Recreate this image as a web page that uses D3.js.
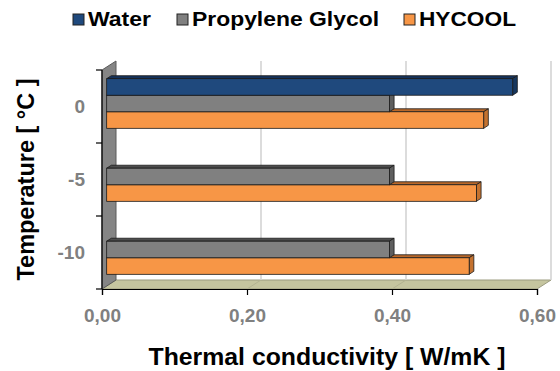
<!DOCTYPE html>
<html>
<head>
<meta charset="utf-8">
<script src="https://cdn.jsdelivr.net/npm/d3@7"></script>
<style>
  html, body { margin: 0; padding: 0; background: #fff; }
  svg { display: block; font-family: "Liberation Sans", Arial, sans-serif; font-weight: bold; }
</style>
</head>
<body>
<div id="chart"></div>
<script>
// data
const categories = ["0", "-5", "-10"];
const series = ["Water", "Propylene Glycol", "HYCOOL"];
const water = [0.56, null, null];
const propyleneGlycol = [0.39, 0.39, 0.39];
const hycool = [0.52, 0.51, 0.50];
const xTicks = [0, 0.2, 0.4, 0.6];

const values = [water, propyleneGlycol, hycool];

const colors = {
	"Water":            {front: "#1f497d", top: "#15325a", side: "#17375e"},
	"Propylene Glycol": {front: "#808080", top: "#4d4d4d", side: "#5e5e5e"},
	"HYCOOL":           {front: "#f79646", top: "#b9682a", side: "#c4722f"}
};

const width = 560,
	height = 371,
	plot = {left: 102, right: 537, top: 70, bottom: 289},
	depth = {dx: 14, dy: -9};

const commaLocale = d3.formatLocale({decimal: ",", thousands: ".", grouping: [3], currency: ["", ""]});
const tickFormat = commaLocale.format(".2f");

const x = d3.scaleLinear()
	.domain([0, 0.6])
	.range([plot.left, plot.right]);

const y0 = d3.scaleBand()
	.domain(categories)
	.range([plot.top, plot.bottom])
	.paddingInner(0.32)
	.paddingOuter(0.16);

const y1 = d3.scaleBand()
	.domain(series)
	.range([0, y0.bandwidth()]);

const svg = d3.select("#chart")
	.append("svg")
	.attr("width", width)
	.attr("height", height);

// offset of a point pushed back into the chart depth (0 = front, 1 = back)
const back = (px, py, t) => [px + depth.dx * t, py + depth.dy * t];
const poly = pts => pts.map(p => p.join(",")).join(" ");

// ---------- walls ----------
svg.append("polygon")
	.attr("points", poly([
		[plot.left, plot.bottom], back(plot.left, plot.bottom, 1),
		back(plot.right, plot.bottom, 1), [plot.right, plot.bottom]
	]))
	.style("fill", "#c5c59f")
	.style("stroke", "#9c9c80")
	.style("stroke-width", 1);

// floor grid
svg.append("g").selectAll("line")
	.data(xTicks.slice(1, -1))
	.enter()
	.append("line")
	.attr("x1", d => x(d))
	.attr("y1", plot.bottom)
	.attr("x2", d => back(x(d), plot.bottom, 1)[0])
	.attr("y2", d => back(x(d), plot.bottom, 1)[1])
	.style("stroke", "#b3b391")
	.style("stroke-width", 1);

// back wall grid
svg.append("g").selectAll("line")
	.data(xTicks.slice(1))
	.enter()
	.append("line")
	.attr("x1", d => back(x(d), plot.top, 1)[0])
	.attr("y1", d => back(x(d), plot.top, 1)[1])
	.attr("x2", d => back(x(d), plot.bottom, 1)[0])
	.attr("y2", d => back(x(d), plot.bottom, 1)[1])
	.style("stroke", "#d4d4d4")
	.style("stroke-width", 1.6);

// side wall
svg.append("polygon")
	.attr("points", poly([
		[plot.left, plot.top], back(plot.left, plot.top, 1),
		back(plot.left, plot.bottom, 1), [plot.left, plot.bottom]
	]))
	.style("fill", "#858585")
	.style("stroke", "#5a5a5a")
	.style("stroke-width", 1);

// ---------- bars ----------
const bars = [];
categories.forEach((c, ci) => {
	// bottom series first so upper bars hide the tops of lower ones
	series.slice().reverse().forEach(s => {
		const v = values[series.indexOf(s)][ci];
		if (v == null) return;
		bars.push({category: c, series: s, value: v});
	});
});

const barG = svg.append("g").classed("bars", true);

bars.forEach(d => {
	const yTop = y0(d.category) + y1(d.series),
		h = y1.bandwidth(),
		[fx0, fy0] = back(x(0), yTop, 1 / 3),
		[fx1] = back(x(d.value), yTop, 1 / 3),
		[bx0, by0] = back(x(0), yTop, 2 / 3),
		[bx1] = back(x(d.value), yTop, 2 / 3),
		col = colors[d.series];

	const g = barG.append("g").attr("data-value", d.value);

	g.append("polygon")
		.attr("points", poly([[fx0, fy0], [bx0, by0], [bx1, by0], [fx1, fy0]]))
		.style("fill", col.top)
		.style("stroke", "#1a1a1a")
		.style("stroke-width", 0.8);

	g.append("polygon")
		.attr("points", poly([[fx1, fy0], [bx1, by0], [bx1, by0 + h], [fx1, fy0 + h]]))
		.style("fill", col.side)
		.style("stroke", "#1a1a1a")
		.style("stroke-width", 0.8);

	g.append("rect")
		.attr("x", fx0)
		.attr("y", fy0)
		.attr("width", fx1 - fx0)
		.attr("height", h)
		.style("fill", col.front)
		.style("stroke", "#1a1a1a")
		.style("stroke-width", 0.8);
});

// ---------- axes ----------
const xAxis = d3.axisBottom(x)
	.tickValues(xTicks)
	.tickSize(6)
	.tickPadding(14)
	.tickFormat(tickFormat);

const xg = svg.append("g")
	.attr("transform", `translate(0,${plot.bottom})`)
	.call(xAxis);
xg.select(".domain").style("stroke", "#000").style("stroke-width", 1.2);
xg.selectAll(".tick line").style("stroke", "#000").style("stroke-width", 1.2);
xg.selectAll(".tick text")
	.style("font-family", "'Liberation Sans', Arial, sans-serif")
	.style("font-weight", "bold")
	.style("font-size", "19px")
	.style("fill", "#808080");

const yAxis = d3.axisLeft(y0)
	.tickSize(0)
	.tickPadding(17);

const yg = svg.append("g")
	.attr("transform", `translate(${plot.left},0)`)
	.call(yAxis);
yg.select(".domain").remove();
yg.selectAll(".tick text")
	.style("font-family", "'Liberation Sans', Arial, sans-serif")
	.style("font-weight", "bold")
	.style("font-size", "19px")
	.style("fill", "#808080");

// category boundaries
const bounds = d3.range(categories.length + 1).map(i => y0.range()[0] + i * y0.step());
svg.append("line")
	.attr("x1", plot.left).attr("x2", plot.left)
	.attr("y1", bounds[0]).attr("y2", bounds[bounds.length - 1])
	.style("stroke", "#000").style("stroke-width", 1.2);
svg.append("g").selectAll("line")
	.data(bounds)
	.enter()
	.append("line")
	.attr("x1", plot.left - 6).attr("x2", plot.left)
	.attr("y1", d => d).attr("y2", d => d)
	.style("stroke", "#000").style("stroke-width", 1.2);

// ---------- titles ----------
svg.append("text")
	.attr("x", 327)
	.attr("y", 365)
	.attr("text-anchor", "middle")
	.attr("textLength", 357)
	.attr("lengthAdjust", "spacingAndGlyphs")
	.style("font-size", "24px")
	.style("fill", "#000")
	.text("Thermal conductivity [ W/mK  ]");

svg.append("text")
	.attr("transform", `translate(34,${(plot.top + plot.bottom) / 2}) rotate(-90)`)
	.attr("text-anchor", "middle")
	.attr("textLength", 202)
	.attr("lengthAdjust", "spacingAndGlyphs")
	.style("font-size", "24px")
	.style("fill", "#000")
	.text("Temperature [ °C ]");

// ---------- legend ----------
const legendX = [73, 177, 404],
	legendW = [63, 187, 97];

const legend = svg.append("g").classed("legend", true);
series.forEach((s, i) => {
	legend.append("rect")
		.attr("x", legendX[i])
		.attr("y", 14)
		.attr("width", 11)
		.attr("height", 11)
		.style("fill", colors[s].front)
		.style("stroke", "#222")
		.style("stroke-width", 1);
	legend.append("text")
		.attr("x", legendX[i] + 15)
		.attr("y", 26)
		.attr("textLength", legendW[i])
		.attr("lengthAdjust", "spacingAndGlyphs")
		.style("font-size", "20px")
		.style("fill", "#000")
		.text(s);
});
</script>
</body>
</html>
